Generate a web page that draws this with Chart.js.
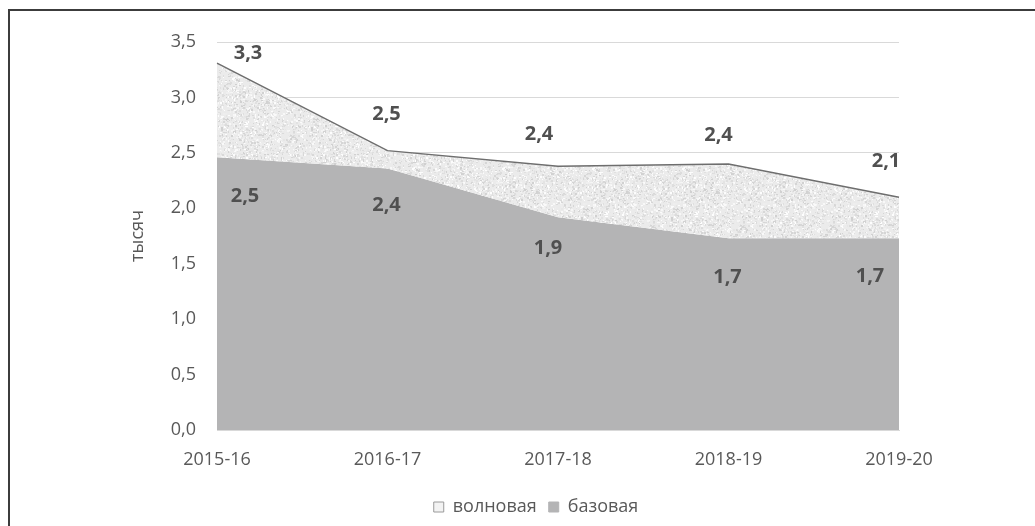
<!DOCTYPE html>
<html>
<head>
<meta charset="utf-8">
<script src="https://cdn.jsdelivr.net/npm/chart.js@4"></script>
<style>
    html, body { margin: 0; padding: 0; background: #fff; overflow: hidden; }
    #frame { position: absolute; left: 8px; top: 9px; width: 1100px; height: 600px;
             border-left: 2px solid #3c3c3c; border-top: 2px solid #3c3c3c; }
    #wrap { position: absolute; left: 0; top: 0; width: 1035px; height: 526px; }
</style>
</head>
<body>
<div id="frame"></div>
<div id="wrap"><canvas id="areaChart" width="1035" height="526"></canvas></div>
<script>
// Data
const seasons = ['2015-16', '2016-17', '2017-18', '2018-19', '2019-20'];
const baseValues = [2.46, 2.36, 1.92, 1.73, 1.73];   // базовая
const totalValues = [3.31, 2.52, 2.38, 2.40, 2.10];  // верх волновой
const yTickValues = [0, 0.5, 1.0, 1.5, 2.0, 2.5, 3.0, 3.5];

// Label placement (pixel nudges, Excel style)
const totalLabelOffsets = [[31, -10], [-1, -36], [-19, -32], [-10, -29], [-13, -36]];
const baseLabelOffsets = [[28, 39], [-1, 37], [-10, 31], [-1, 39], [-29, 38]];

const textColor = '#595959';
const gridColor = '#d9d9d9';
const mainFont = "'Open Sans', sans-serif";

function fmt(v) {
    return v.toFixed(1).replace('.', ',');
}

// speckled fill for the wave area
function makeSpeckle() {
    const c = document.createElement('canvas');
    c.width = 90; c.height = 90;
    const g = c.getContext('2d');
    g.fillStyle = '#ebebeb';
    g.fillRect(0, 0, 90, 90);
    let seed = 12345;
    const rnd = () => { seed = (seed * 1103515245 + 12345) & 0x7fffffff; return seed / 0x7fffffff; };
    for (let i = 0; i < 2400; i++) {
        const v = Math.round(208 + rnd() * 47);
        g.fillStyle = 'rgb(' + v + ',' + v + ',' + v + ')';
        g.fillRect(Math.floor(rnd() * 90), Math.floor(rnd() * 90), 1 + Math.floor(rnd() * 2), 1 + Math.floor(rnd() * 2));
    }
    return g.createPattern(c, 'repeat');
}

const valueLabels = {
    id: 'valueLabels',
    afterDatasetsDraw(chart) {
        const ctx = chart.ctx;
        ctx.save();
        ctx.font = "bold 20px 'Open Sans', sans-serif";
        ctx.fillStyle = '#505050';
        ctx.textAlign = 'center';
        ctx.textBaseline = 'middle';
        const sets = [[0, totalValues, totalLabelOffsets], [1, baseValues, baseLabelOffsets]];
        sets.forEach(([idx, vals, offs]) => {
            chart.getDatasetMeta(idx).data.forEach((pt, i) => {
                ctx.fillText(fmt(vals[i]), pt.x + offs[i][0], pt.y + offs[i][1]);
            });
        });
        ctx.restore();
    }
};

// legend sits a bit right of the page centre in the original
const legendShift = {
    id: 'legendShift',
    afterLayout(chart) {
        chart.legend.left += 24;
        chart.legend.right += 24;
    }
};

new Chart(document.getElementById('areaChart'), {
    type: 'line',
    data: {
        labels: seasons,
        datasets: [{
            label: 'волновая',
            data: totalValues,
            backgroundColor: makeSpeckle(),
            borderColor: '#6e6e6e',
            borderWidth: 1.5,
            pointRadius: 0,
            tension: 0,
            fill: '+1'
        }, {
            label: 'базовая',
            data: baseValues,
            backgroundColor: '#b4b4b5',
            borderColor: 'rgba(0,0,0,0)',
            borderWidth: 0,
            pointRadius: 0,
            tension: 0,
            fill: 'origin'
        }]
    },
    options: {
        responsive: false,
        animation: false,
        layout: { padding: { top: 42, left: 125, right: 136, bottom: 0 } },
        plugins: {
            tooltip: { enabled: false },
            legend: {
                position: 'bottom',
                labels: {
                    color: textColor,
                    font: { size: 18, family: mainFont },
                    boxWidth: 10,
                    boxHeight: 10,
                    padding: 12,
                    generateLabels: function(chart) {
                        return chart.data.datasets.map((ds, i) => ({
                            text: ds.label,
                            fillStyle: i === 0 ? '#f3f3f3' : '#b4b4b5',
                            strokeStyle: i === 0 ? '#9a9a9a' : '#b4b4b5',
                            lineWidth: 1,
                            fontColor: textColor,
                            datasetIndex: i
                        }));
                    }
                }
            }
        },
        scales: {
            x: {
                offset: false,
                grid: { display: false, drawTicks: false },
                border: { color: gridColor },
                ticks: {
                    color: textColor,
                    font: { size: 18, family: mainFont },
                    padding: 19,
                    maxRotation: 0
                },
                afterFit: function(scale) { scale.height = 56; }
            },
            y: {
                min: 0,
                max: 3.5,
                grid: { color: gridColor, drawTicks: false },
                border: { display: false },
                afterBuildTicks: function(scale) {
                    scale.ticks = yTickValues.map(v => ({ value: v }));
                },
                ticks: {
                    color: textColor,
                    font: { size: 18, family: mainFont },
                    padding: 21,
                    callback: function(value) { return fmt(value); }
                },
                title: {
                    display: true,
                    text: 'тысяч',
                    color: textColor,
                    font: { size: 18, family: mainFont },
                    padding: { top: 2, bottom: 0 }
                },
                afterFit: function(scale) { scale.width = 92; }
            }
        }
    },
    plugins: [valueLabels, legendShift]
});
</script>
</body>
</html>
